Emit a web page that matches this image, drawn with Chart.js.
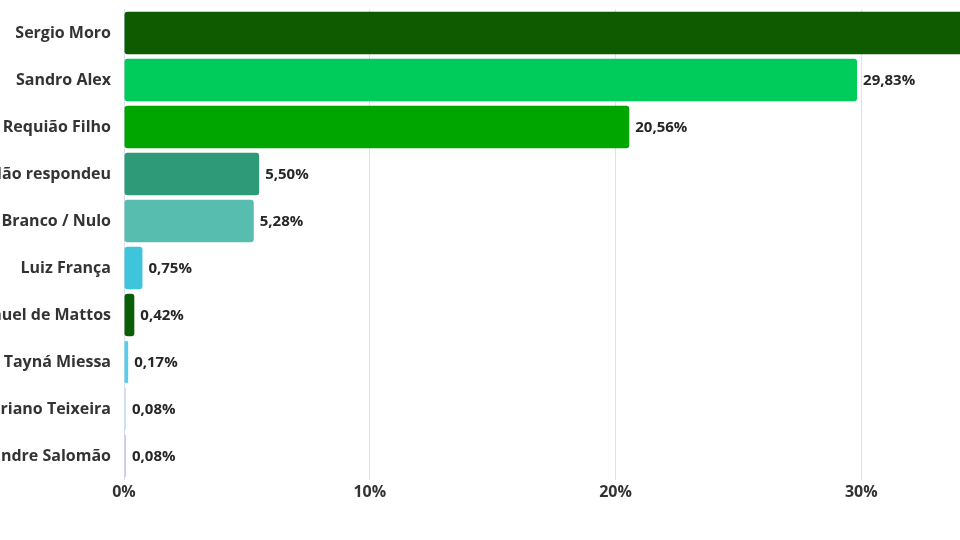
<!DOCTYPE html>
<html>
<head>
<meta charset="utf-8">
<script src="https://cdn.jsdelivr.net/npm/chart.js@4"></script>
<style>
    html, body { margin: 0; padding: 0; width: 960px; height: 540px; overflow: hidden; background: #fff; }
    #wrap { position: absolute; left: -200px; top: 0; width: 1307px; height: 540px; }
</style>
</head>
<body>
<div id="wrap"><canvas id="poll"></canvas></div>
<script>
// Candidates, as listed top to bottom
const candidates = ['Sergio Moro', 'Sandro Alex', 'Requião Filho', 'Não respondeu', 'Branco / Nulo',
    'Luiz França', 'Manuel de Mattos', 'Tayná Miessa', 'Adriano Teixeira', 'Alexandre Salomão'];

// Share of votes in percent (Sergio Moro's bar runs off the picture, estimated)
const shares = [37.33, 29.83, 20.56, 5.50, 5.28, 0.75, 0.42, 0.17, 0.08, 0.08];

// One colour per bar
const barColors = ['#0f5c00', '#00cc5c', '#00a600', '#2f9a78', '#57bdaf',
    '#3ec5dc', '#0b5e06', '#56cdea', '#bde6f7', '#c9c6f0'];

const xTicks = [0, 10, 20, 30, 40];

var ctx = document.getElementById('poll').getContext('2d');

// Draws the value next to the end of each bar
var valueLabels = {
    id: 'valueLabels',
    afterDatasetsDraw: function (chart) {
        let c = chart.ctx;
        let meta = chart.getDatasetMeta(0);
        c.save();
        c.font = 'bold 15px "Open Sans"';
        c.fillStyle = '#262626';
        c.textBaseline = 'middle';
        c.textAlign = 'left';
        meta.data.forEach(function (bar, i) {
            let txt = shares[i].toFixed(2).replace('.', ',') + '%';
            c.fillText(txt, bar.x + 6, bar.y + 1);
        });
        c.restore();
    }
};

var myChart = new Chart(ctx, {
    type: 'bar',
    data: {
        labels: candidates,
        datasets: [{
            data: shares,
            backgroundColor: barColors,
            borderRadius: 3,
            borderSkipped: false,
            categoryPercentage: 0.9,
            barPercentage: 1
        }]
    },
    options: {
        indexAxis: 'y',
        responsive: true,
        maintainAspectRatio: false,
        animation: false,
        layout: { padding: { top: 9.5, right: 0, left: 0, bottom: 0 } },
        plugins: {
            legend: { display: false },
            tooltip: { enabled: false }
        },
        scales: {
            x: {
                min: 0,
                max: 40,
                afterBuildTicks: function (axis) {
                    axis.ticks = xTicks.map(v => ({ value: v }));
                },
                afterFit: function (axis) {
                    axis.height = 60.5;
                    axis.paddingLeft = 0;
                    axis.paddingRight = 0;
                },
                grid: { color: '#e2e2e2', drawTicks: false },
                border: { display: false },
                ticks: {
                    padding: 3,
                    color: '#333',
                    font: { family: 'Open Sans', size: 16, weight: 'bold' },
                    callback: v => v + '%'
                }
            },
            y: {
                afterFit: function (axis) {
                    axis.width = 324;
                    axis.paddingTop = 0;
                    axis.paddingBottom = 0;
                },
                grid: { display: false, drawTicks: false },
                border: { color: '#dcdcf0' },
                ticks: {
                    padding: 13,
                    color: '#333',
                    font: { family: 'Open Sans', size: 16, weight: 'bold' }
                }
            }
        }
    },
    plugins: [valueLabels]
});
</script>
</body>
</html>
